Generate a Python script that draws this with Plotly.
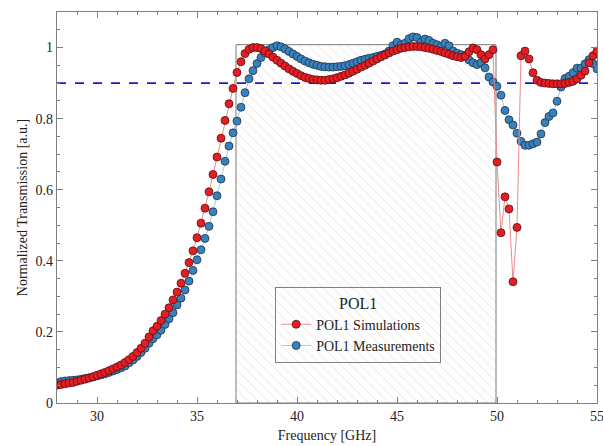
import plotly.graph_objects as go

# Frequency sampling grid (GHz), 28.0 .. 55.0 in 0.2 GHz steps
freq = [round(28.0 + 0.2 * i, 1) for i in range(136)]

sim = [
    0.050, 0.052, 0.054, 0.056, 0.058, 0.061, 0.064, 0.067, 0.070, 0.074,
    0.078, 0.082, 0.086, 0.091, 0.096, 0.101, 0.107, 0.114, 0.122, 0.131,
    0.142, 0.154, 0.168, 0.186, 0.203, 0.216, 0.232, 0.250, 0.268, 0.290,
    0.312, 0.337, 0.365, 0.395, 0.428, 0.465, 0.506, 0.548, 0.594, 0.643,
    0.692, 0.745, 0.795, 0.842, 0.885, 0.930, 0.960, 0.983, 0.995, 1.000,
    1.000, 0.997, 0.990, 0.982, 0.973, 0.964, 0.956, 0.948, 0.940, 0.933,
    0.927, 0.921, 0.916, 0.913, 0.910, 0.909, 0.908, 0.908, 0.910, 0.912,
    0.915, 0.919, 0.923, 0.928, 0.933, 0.939, 0.945, 0.950, 0.956, 0.962,
    0.968, 0.974, 0.979, 0.985, 0.990, 0.994, 0.998, 1.000, 1.002, 1.003,
    1.003, 1.002, 1.000, 0.998, 0.995, 0.992, 0.989, 0.985, 0.981, 0.977,
    0.974, 0.972, 0.975, 0.988, 0.999, 0.994, 0.980, 0.968, 0.980, 0.994,
    0.678, 0.479, 0.580, 0.546, 0.341, 0.494, 0.977, 0.990, 0.968, 0.929,
    0.908, 0.902, 0.900, 0.899, 0.898, 0.898, 0.898, 0.899, 0.902, 0.905,
    0.912, 0.922, 0.934, 0.957, 0.977, 0.990,
]

meas = [
    0.057, 0.060, 0.062, 0.063, 0.064, 0.065, 0.067, 0.069, 0.071, 0.073,
    0.076, 0.079, 0.082, 0.086, 0.090, 0.094, 0.099, 0.104, 0.113, 0.121,
    0.131, 0.142, 0.154, 0.168, 0.181, 0.192, 0.205, 0.221, 0.237, 0.254,
    0.276, 0.295, 0.318, 0.343, 0.373, 0.403, 0.431, 0.463, 0.497, 0.538,
    0.583, 0.630, 0.680, 0.723, 0.760, 0.793, 0.832, 0.873, 0.912, 0.935,
    0.955, 0.972, 0.985, 0.994, 1.000, 1.005, 1.002, 0.996, 0.989, 0.982,
    0.975, 0.968, 0.962, 0.957, 0.953, 0.950, 0.947, 0.946, 0.945, 0.945,
    0.946, 0.947, 0.949, 0.952, 0.956, 0.960, 0.964, 0.967, 0.970, 0.972,
    0.975, 0.978, 0.982, 0.990, 1.005, 1.015, 1.008, 1.012, 1.025, 1.030,
    1.028, 1.015, 1.024, 1.020, 1.012, 1.008, 1.003, 1.012, 1.005, 0.990,
    0.984, 0.980, 0.978, 0.965, 0.957, 0.952, 0.957, 0.943, 0.917, 0.903,
    0.891, 0.866, 0.823, 0.797, 0.782, 0.759, 0.736, 0.725, 0.725, 0.729,
    0.734, 0.757, 0.789, 0.806, 0.816, 0.849, 0.889, 0.913, 0.919, 0.929,
    0.942, 0.942, 0.954, 0.966, 0.955, 0.940,
]

band_x = [36.95, 49.95]      # passband box (GHz)
band_top = 1.008
threshold = 0.9
x_range = [28, 55]
y_range = [0, 1.1]
x_ticks = [30, 35, 40, 45, 50, 55]
y_ticks = [0, 0.2, 0.4, 0.6, 0.8, 1]

FONT = "Liberation Serif, Times New Roman, serif"

fig = go.Figure()

# hatched passband box
fig.add_trace(go.Scatter(
    x=[band_x[0], band_x[1], band_x[1], band_x[0], band_x[0]],
    y=[0, 0, band_top, band_top, 0],
    mode="lines", fill="toself",
    fillcolor="rgba(255,255,255,0)",
    fillpattern=dict(shape="\\", fgcolor="#c4c4c4", bgcolor="white",
                     size=7, solidity=0.12),
    line=dict(color="#7a7a7a", width=1),
    showlegend=False, hoverinfo="skip",
))

# threshold dashed line
fig.add_trace(go.Scatter(
    x=x_range, y=[threshold, threshold], mode="lines",
    line=dict(color="#1a1ad6", width=1.6, dash="dash"),
    showlegend=False, hoverinfo="skip",
))

fig.add_trace(go.Scatter(
    x=freq, y=meas, mode="lines+markers", name="POL1 Measurements",
    line=dict(color="#a9c9e4", width=1),
    marker=dict(size=8, color="#3a80b9", line=dict(color="#1d3550", width=0.8)),
    legendrank=2,
))

fig.add_trace(go.Scatter(
    x=freq, y=sim, mode="lines+markers", name="POL1 Simulations",
    line=dict(color="#ee8a8a", width=1),
    marker=dict(size=8, color="#e31e24", line=dict(color="#5a1010", width=0.8)),
    legendrank=1,
))

axis_common = dict(
    showline=True, linecolor="#808080", linewidth=1.2, mirror="ticks",
    ticks="inside", tickcolor="#808080", ticklen=6, tickwidth=1,
    showgrid=False, zeroline=False, automargin=False,
    ticklabeloverflow="allow",
    tickfont=dict(family=FONT, size=14, color="#222"),
)

fig.update_xaxes(
    range=x_range, tickvals=x_ticks,
    minor=dict(dtick=1, ticks="inside", ticklen=3, tickcolor="#808080"),
    title=dict(text="Frequency [GHz]", font=dict(family=FONT, size=14, color="#222"),
               standoff=7),
    **axis_common,
)
fig.update_yaxes(
    range=y_range, tickvals=y_ticks,
    minor=dict(dtick=0.05, ticks="inside", ticklen=3, tickcolor="#808080"),
    title=dict(text="Normalized Transmission [a.u.]",
               font=dict(family=FONT, size=14, color="#222"), standoff=4),
    **axis_common,
)

fig.update_layout(
    width=603, height=446,
    margin=dict(l=57, r=6, t=12, b=43),
    paper_bgcolor="white", plot_bgcolor="white",
    font=dict(family=FONT, color="#222"),
    legend=dict(
        title=dict(text="POL1", side="top center", font=dict(family=FONT, size=16)),
        x=0.404, y=0.297, xanchor="left", yanchor="top",
        bgcolor="rgba(0,0,0,0)", bordercolor="#808080", borderwidth=1,
        font=dict(family=FONT, size=14), tracegroupgap=0,
        itemwidth=30,
    ),
)

# remove the browser's default 8px page margin so the figure fills the window
fig.write_html(
    "out.html",
    config={"displayModeBar": False},
    post_script="document.body.style.margin='0';document.body.style.overflow='hidden';",
)
